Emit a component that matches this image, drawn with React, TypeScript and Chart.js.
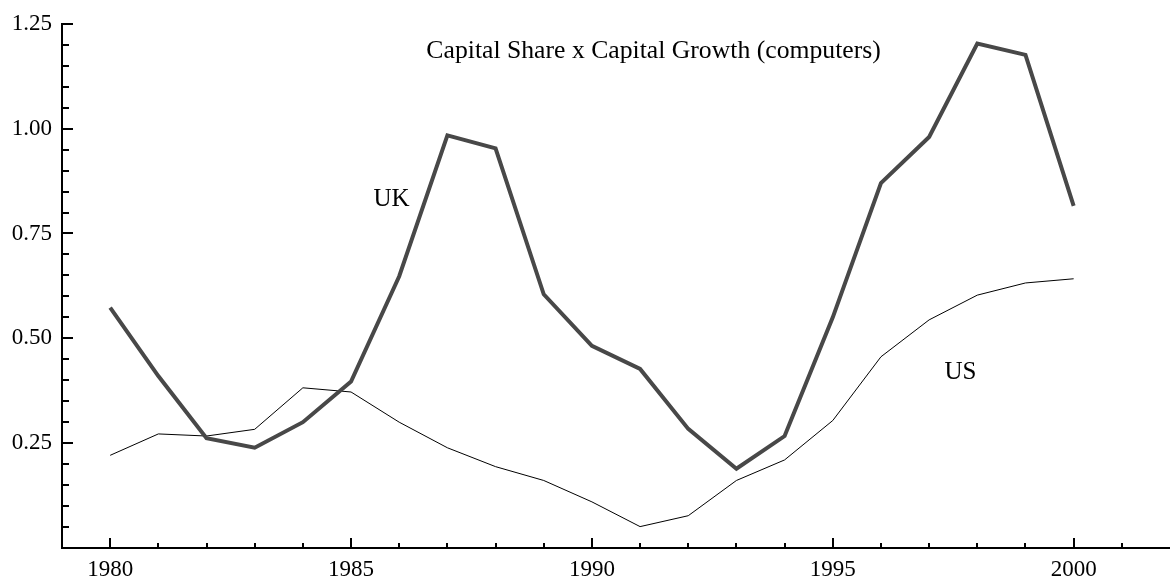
import React, { useEffect, useRef } from 'react';
import { Chart, registerables } from 'chart.js';

Chart.register(...registerables);

const years = [1980, 1981, 1982, 1983, 1984, 1985, 1986, 1987, 1988, 1989, 1990, 1991, 1992, 1993, 1994, 1995, 1996, 1997, 1998, 1999, 2000];
const ukValues = [0.573, 0.41, 0.262, 0.239, 0.3, 0.397, 0.648, 0.984, 0.953, 0.605, 0.482, 0.427, 0.284, 0.189, 0.267, 0.55, 0.87, 0.98, 1.203, 1.176, 0.816];
const usValues = [0.221, 0.272, 0.267, 0.283, 0.382, 0.372, 0.3, 0.239, 0.194, 0.161, 0.11, 0.051, 0.077, 0.161, 0.21, 0.304, 0.456, 0.544, 0.603, 0.632, 0.642];
const xTickLabels = [1980, 1985, 1990, 1995, 2000];
const yTickLabels = [0.25, 0.5, 0.75, 1.0, 1.25];
const xRange = [1979, 2002];
const yRange = [0, 1.25];

const chartTitle = 'Capital Share x Capital Growth (computers)';
const textLabels = [
  { text: chartTitle, x: 1991.28, y: 1.184, size: 25.7 },
  { text: 'UK', x: 1985.84, y: 0.83, size: 25 },
  { text: 'US', x: 1997.65, y: 0.418, size: 25 },
];

const FONT = '"Liberation Serif", "Times New Roman", serif';

const decorPlugin = {
  id: 'decor',
  afterDraw(chart: any) {
    const ctx = chart.ctx;
    const xs = chart.scales.x;
    const ys = chart.scales.y;
    const { left, bottom } = chart.chartArea;
    ctx.save();
    ctx.strokeStyle = '#000';
    ctx.lineWidth = 2;
    for (let yr = xTickLabels[0]; yr < xRange[1]; yr++) {
      const px = Math.round(xs.getPixelForValue(yr));
      const len = yr % 5 === 0 ? 10 : 5;
      ctx.beginPath();
      ctx.moveTo(px, bottom);
      ctx.lineTo(px, bottom - len);
      ctx.stroke();
    }
    for (let i = 1; i <= 25; i++) {
      const v = i * 0.05;
      const py = Math.round(ys.getPixelForValue(v));
      const len = i % 5 === 0 ? 11 : 7;
      ctx.beginPath();
      ctx.moveTo(left, py);
      ctx.lineTo(left + len, py);
      ctx.stroke();
    }
    ctx.fillStyle = '#000';
    ctx.textAlign = 'center';
    ctx.textBaseline = 'middle';
    for (const t of textLabels) {
      ctx.font = `${t.size}px ${FONT}`;
      ctx.fillText(t.text, xs.getPixelForValue(t.x), ys.getPixelForValue(t.y));
    }
    ctx.restore();
  },
};

export default function App() {
  const ref = useRef<HTMLCanvasElement | null>(null);
  useEffect(() => {
    if (!ref.current) return;
    const chart = new Chart(ref.current, {
      type: 'line',
      data: {
        datasets: [
          {
            label: 'UK',
            data: years.map((x, i) => ({ x, y: ukValues[i] })),
            borderColor: '#484848',
            borderWidth: 4,
            pointRadius: 0,
            tension: 0,
            fill: false,
            borderJoinStyle: 'miter',
          },
          {
            label: 'US',
            data: years.map((x, i) => ({ x, y: usValues[i] })),
            borderColor: '#000',
            borderWidth: 1,
            pointRadius: 0,
            tension: 0,
            fill: false,
          },
        ],
      },
      options: {
        animation: false,
        responsive: false,
        layout: { padding: { top: 15, left: 0, right: 0, bottom: 0 } },
        plugins: { legend: { display: false }, tooltip: { enabled: false }, title: { display: false } },
        scales: {
          x: {
            type: 'linear',
            min: xRange[0],
            max: xRange[1],
            grid: { display: false, drawTicks: false },
            border: { display: true, color: '#000', width: 2 },
            afterBuildTicks: (s: any) => { s.ticks = xTickLabels.map((v) => ({ value: v })); },
            afterFit: (s: any) => { s.height = 38; },
            ticks: {
              color: '#000',
              font: { family: FONT, size: 23 },
              padding: 8,
              maxRotation: 0,
              autoSkip: false,
              callback: (v: any) => String(v),
            },
          },
          y: {
            type: 'linear',
            min: yRange[0],
            max: yRange[1],
            grid: { display: false, drawTicks: false },
            border: { display: true, color: '#000', width: 2 },
            afterBuildTicks: (s: any) => { s.ticks = yTickLabels.map((v) => ({ value: v })); },
            afterFit: (s: any) => { s.width = 62; },
            ticks: {
              color: '#000',
              font: { family: FONT, size: 23 },
              padding: 10,
              autoSkip: false,
              callback: (v: any) => Number(v).toFixed(2),
            },
          },
        },
      },
      plugins: [decorPlugin],
    });
    return () => chart.destroy();
  }, []);
  return (
    <div style={{ position: 'absolute', left: 0, top: 0, width: 1170, height: 586, background: '#fff' }}>
      <canvas ref={ref} width={1170} height={586} style={{ display: 'block' }} />
    </div>
  );
}
